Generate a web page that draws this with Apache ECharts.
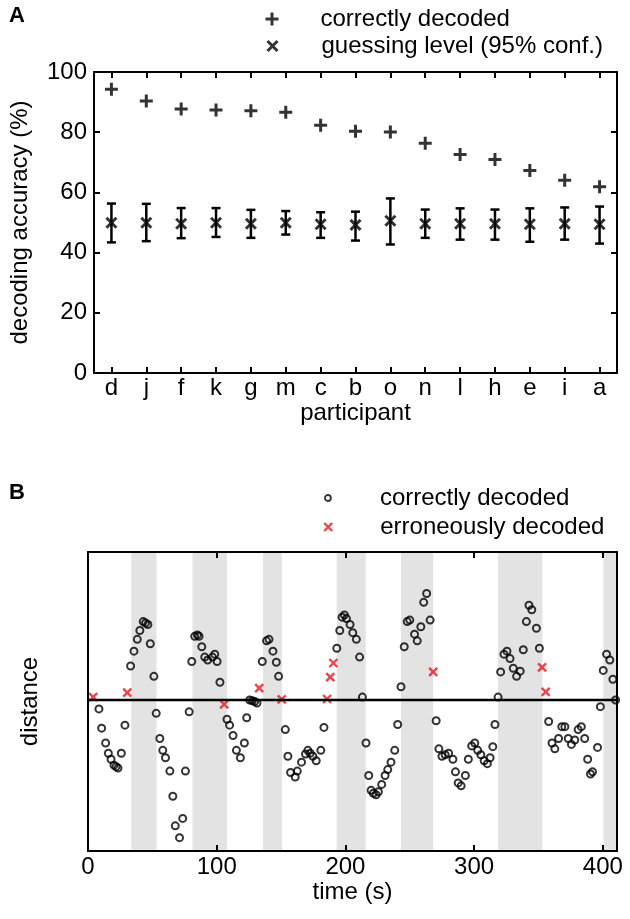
<!DOCTYPE html>
<html>
<head>
<meta charset="utf-8">
<script src="https://cdn.jsdelivr.net/npm/echarts@6/dist/echarts.min.js"></script>
<style>
html,body{margin:0;padding:0;background:#fff;}
#chart{width:630px;height:919px;}
</style>
</head>
<body>
<div id="chart"></div>
<script>
// ---------- Panel A data ----------
const participants = ['d','j','f','k','g','m','c','b','o','n','l','h','e','i','a'];
const correctPct = [94.3, 90.4, 87.7, 87.4, 87.1, 86.6, 82.3, 80.3, 80.1, 76.3, 72.6, 70.9, 67.3, 64.0, 61.9];
const guessMean = [49.9, 49.9, 49.6, 49.9, 49.6, 49.9, 49.4, 49.2, 50.6, 49.6, 49.6, 49.6, 49.4, 49.6, 49.4];
const guessLow  = [43.4, 43.8, 44.8, 45.2, 44.9, 46.0, 44.9, 44.0, 42.7, 44.9, 44.3, 44.3, 43.6, 44.3, 43.0];
const guessHigh = [56.3, 56.2, 54.8, 54.8, 54.2, 53.8, 53.4, 53.6, 58.0, 54.3, 54.7, 54.3, 54.7, 55.0, 55.3];
const accuracyTicks = [0, 20, 40, 60, 80, 100];

// ---------- Panel B data ----------
const correctTime = [8.5,10.6,13.7,15.8,17.9,20.2,21.8,23.3,25.9,28.7,33.1,35.7,38.3,40.3,42.9,44.7,46.5,48.4,51.2,53.0,
  55.8,58.1,60.2,63.6,65.9,67.8,71.1,73.6,75.7,78.6,80.6,82.9,85.0,86.3,88.4,90.7,93.0,96.7,98.5,100.3,
  102.5,108.0,110.0,112.7,115.3,118.4,121.5,123.3,125.6,127.7,129.5,131.3,135.4,138.7,140.6,143.7,146.3,148.1,153.3,155.3,
  157.4,161.0,162.6,165.9,169.0,170.8,172.6,174.7,177.3,180.9,183.3,193.3,195.6,197.4,199.2,200.8,203.6,205.7,208.5,211.0,
  213.2,216.0,218.1,219.9,221.7,223.8,225.6,228.2,230.8,232.9,235.4,238.3,240.6,243.2,245.7,248.0,250.0,253.7,255.8,258.6,
  260.8,263.1,265.8,270.5,272.6,275.0,277.5,280.2,283.5,285.5,287.6,289.9,293.2,295.5,298.1,300.5,302.8,305.2,307.8,310.3,
  312.4,314.5,316.2,318.6,320.6,323.2,325.5,327.9,330.4,333.0,335.8,338.2,340.6,342.6,344.8,348.4,350.7,357.9,360.5,362.7,
  365.6,368.1,370.5,373.1,375.6,378.2,380.8,383.3,385.9,388.2,390.4,392.0,395.9,398.1,400.3,402.9,405.4,407.8,409.9];
const correctDist = [-0.06,-0.19,-0.29,-0.36,-0.40,-0.44,-0.45,-0.46,-0.36,-0.17,0.23,0.33,0.41,0.47,0.53,0.52,0.51,0.38,0.16,-0.09,
  -0.26,-0.34,-0.39,-0.48,-0.65,-0.85,-0.93,-0.80,-0.48,-0.08,0.26,0.43,0.44,0.43,0.36,0.29,0.27,0.29,0.31,0.26,
  0.12,-0.13,-0.17,-0.24,-0.34,-0.39,-0.29,-0.12,0.00,-0.005,-0.01,-0.02,0.26,0.40,0.41,0.33,0.255,0.16,-0.20,-0.38,
  -0.49,-0.52,-0.48,-0.42,-0.365,-0.34,-0.36,-0.38,-0.41,-0.34,-0.185,0.35,0.47,0.56,0.575,0.55,0.51,0.455,0.41,0.29,
  0.02,-0.29,-0.51,-0.61,-0.63,-0.64,-0.62,-0.57,-0.51,-0.47,-0.42,-0.34,-0.165,0.09,0.36,0.53,0.54,0.445,0.40,0.495,
  0.66,0.72,0.54,-0.14,-0.33,-0.38,-0.37,-0.36,-0.40,-0.485,-0.56,-0.58,-0.51,-0.40,-0.31,-0.29,-0.34,-0.37,-0.41,-0.43,
  -0.39,-0.315,-0.165,0.02,0.19,0.31,0.33,0.28,0.215,0.16,0.195,0.34,0.53,0.64,0.61,0.485,0.35,-0.145,-0.29,-0.33,
  -0.26,-0.18,-0.18,-0.26,-0.30,-0.27,-0.20,-0.18,-0.26,-0.40,-0.50,-0.485,-0.32,-0.045,0.20,0.31,0.27,0.14,0.0];
const errorTime = [4.0, 30.5, 105.8, 133.0, 150.5, 185.7, 188.2, 190.6, 268.2, 352.8, 355.6];
const errorDist = [0.02, 0.05, -0.03, 0.08, 0.005, 0.007, 0.155, 0.25, 0.19, 0.22, 0.055];
const bandStart = [33.6, 81.2, 136.0, 193.3, 243.2, 318.6, 400.5];
const bandEnd   = [53.2, 108.0, 150.7, 215.8, 268.2, 353.0, 411.0];
const timeTicks = [0, 100, 200, 300, 400];

const plusPath = 'path://M0,5L10,5M5,0L5,10';
const crossPath = 'path://M0,0L10,10M10,0L0,10';
const FONT = "'Liberation Sans', Arial, sans-serif";

const chart = echarts.init(document.getElementById('chart'), null, {renderer: 'canvas'});

const axisLineStyle = {show: true, onZero: false, lineStyle: {color: '#000', width: 2}};
const tickIn = {show: true, inside: true, length: 6, lineStyle: {color: '#000', width: 2}};

function mkLegend(name, icon, itemStyle, left, top, size, pad) {
  return {
    data: [{name: name, icon: icon, itemStyle: itemStyle}],
    left: left, top: top, orient: 'vertical',
    itemWidth: size, itemHeight: size,
    selectedMode: false,
    textStyle: {fontSize: 24, color: '#000', fontFamily: FONT, padding: [0, 0, 0, pad]}
  };
}

const option = {
  animation: false,
  backgroundColor: '#fff',
  textStyle: {fontFamily: FONT},
  title: [
    {text: 'A', left: 4, top: 0, textStyle: {fontSize: 22, fontWeight: 'bold', color: '#000', fontFamily: FONT}},
    {text: 'B', left: 4, top: 477, textStyle: {fontSize: 22, fontWeight: 'bold', color: '#000', fontFamily: FONT}}
  ],
  legend: [
    mkLegend('correctly decoded', plusPath, {color: 'rgba(0,0,0,0)', borderColor: '#000', borderWidth: 3}, 259, 2, 13, 37),
    mkLegend('guessing level (95% conf.)', crossPath, {color: 'rgba(0,0,0,0)', borderColor: '#000', borderWidth: 3}, 261, 29, 10, 39),
    mkLegend('correctly decoded', 'circle', {color: '#fff', borderColor: '#000', borderWidth: 1.8}, 319, 481, 6, 44),
    mkLegend('erroneously decoded', crossPath, {color: 'rgba(0,0,0,0)', borderColor: '#e8141b', borderWidth: 2.4}, 318, 510, 8, 43)
  ],
  grid: [
    {left: 92, top: 72, width: 525, height: 301},
    {left: 88, top: 552, width: 529, height: 299}
  ],
  xAxis: [
    {type: 'category', gridIndex: 0, data: participants, boundaryGap: true,
     axisLine: axisLineStyle, axisTick: Object.assign({alignWithLabel: true}, tickIn),
     axisLabel: {fontSize: 24, color: '#000', margin: 3, interval: 0},
     name: 'participant', nameLocation: 'middle', nameGap: 16,
     nameTextStyle: {fontSize: 24, color: '#000'}, splitLine: {show: false}, z: 5},
    {type: 'category', gridIndex: 0, data: participants, position: 'top', boundaryGap: true,
     axisLine: axisLineStyle, axisTick: Object.assign({alignWithLabel: true}, tickIn),
     axisLabel: {show: false}, splitLine: {show: false}, z: 5},
    {type: 'value', gridIndex: 1, min: 0, max: 411, interval: 100,
     axisLine: axisLineStyle, axisTick: tickIn,
     axisLabel: {fontSize: 24, color: '#000', margin: 4, showMaxLabel: false,
       formatter: v => timeTicks.indexOf(v) >= 0 ? String(v) : ''},
     name: 'time (s)', nameLocation: 'middle', nameGap: 26,
     nameTextStyle: {fontSize: 24, color: '#000'}, splitLine: {show: false}, z: 5},
    {type: 'value', gridIndex: 1, min: 0, max: 411, interval: 100, position: 'top',
     axisLine: axisLineStyle, axisTick: tickIn, axisLabel: {show: false}, splitLine: {show: false}, z: 5}
  ],
  yAxis: [
    {type: 'value', gridIndex: 0, min: accuracyTicks[0], max: accuracyTicks[accuracyTicks.length - 1], interval: 20,
     axisLine: axisLineStyle, axisTick: tickIn,
     axisLabel: {fontSize: 24, color: '#000', margin: 7},
     name: 'decoding accuracy (%)', nameLocation: 'middle', nameGap: 62,
     nameTextStyle: {fontSize: 24, color: '#000'}, splitLine: {show: false}, z: 5},
    {type: 'value', gridIndex: 0, min: 0, max: 100, interval: 20, position: 'right',
     axisLine: axisLineStyle, axisTick: tickIn, axisLabel: {show: false}, splitLine: {show: false}, z: 5},
    {type: 'value', gridIndex: 1, min: -1.02, max: 1,
     axisLine: axisLineStyle, axisTick: {show: false}, axisLabel: {show: false},
     name: 'distance', nameLocation: 'middle', nameGap: 46,
     nameTextStyle: {fontSize: 24, color: '#000'}, splitLine: {show: false}, z: 5},
    {type: 'value', gridIndex: 1, min: -1.02, max: 1, position: 'right',
     axisLine: axisLineStyle, axisTick: {show: false}, axisLabel: {show: false}, splitLine: {show: false}, z: 5}
  ],
  series: [
    {
      name: 'correctly decoded', type: 'scatter', xAxisIndex: 0, yAxisIndex: 0,
      data: correctPct, symbol: plusPath, symbolSize: 13,
      itemStyle: {color: 'rgba(0,0,0,0)', borderColor: '#000', borderWidth: 3}, z: 3
    },
    {
      name: 'guess CI', type: 'custom', xAxisIndex: 0, yAxisIndex: 0,
      data: participants.map((p, i) => [i, guessLow[i], guessHigh[i]]),
      encode: {x: 0, y: [1, 2]},
      renderItem: function (params, api) {
        const lo = api.coord([api.value(0), api.value(1)]);
        const hi = api.coord([api.value(0), api.value(2)]);
        const cw = 4.5;
        const st = {stroke: '#000', lineWidth: 2.5, fill: null};
        return {type: 'group', children: [
          {type: 'line', shape: {x1: lo[0], y1: lo[1], x2: hi[0], y2: hi[1]}, style: st},
          {type: 'line', shape: {x1: lo[0] - cw, y1: lo[1], x2: lo[0] + cw, y2: lo[1]}, style: st},
          {type: 'line', shape: {x1: hi[0] - cw, y1: hi[1], x2: hi[0] + cw, y2: hi[1]}, style: st}
        ]};
      },
      z: 2
    },
    {
      name: 'guessing level (95% conf.)', type: 'scatter', xAxisIndex: 0, yAxisIndex: 0,
      data: guessMean, symbol: crossPath, symbolSize: 10,
      itemStyle: {color: 'rgba(0,0,0,0)', borderColor: '#000', borderWidth: 3}, z: 3
    },
    {
      name: 'correctly decoded', type: 'scatter', xAxisIndex: 2, yAxisIndex: 2,
      data: correctTime.map((t, i) => [t, correctDist[i]]),
      symbol: 'circle', symbolSize: 7,
      itemStyle: {color: 'rgba(255,255,255,0)', borderColor: '#000', borderWidth: 2},
      markArea: {
        silent: true,
        itemStyle: {color: '#e3e3e3'},
        data: bandStart.map((s, i) => [{xAxis: s}, {xAxis: bandEnd[i]}])
      },
      markLine: {
        silent: true, symbol: 'none', label: {show: false},
        lineStyle: {color: '#000', width: 2.4, type: 'solid'},
        data: [{yAxis: 0}]
      },
      z: 3
    },
    {
      name: 'erroneously decoded', type: 'scatter', xAxisIndex: 2, yAxisIndex: 2,
      data: errorTime.map((t, i) => [t, errorDist[i]]),
      symbol: crossPath, symbolSize: 8,
      itemStyle: {color: 'rgba(0,0,0,0)', borderColor: '#e8141b', borderWidth: 2.4}, z: 4
    }
  ]
};
chart.setOption(option);
</script>
</body>
</html>
